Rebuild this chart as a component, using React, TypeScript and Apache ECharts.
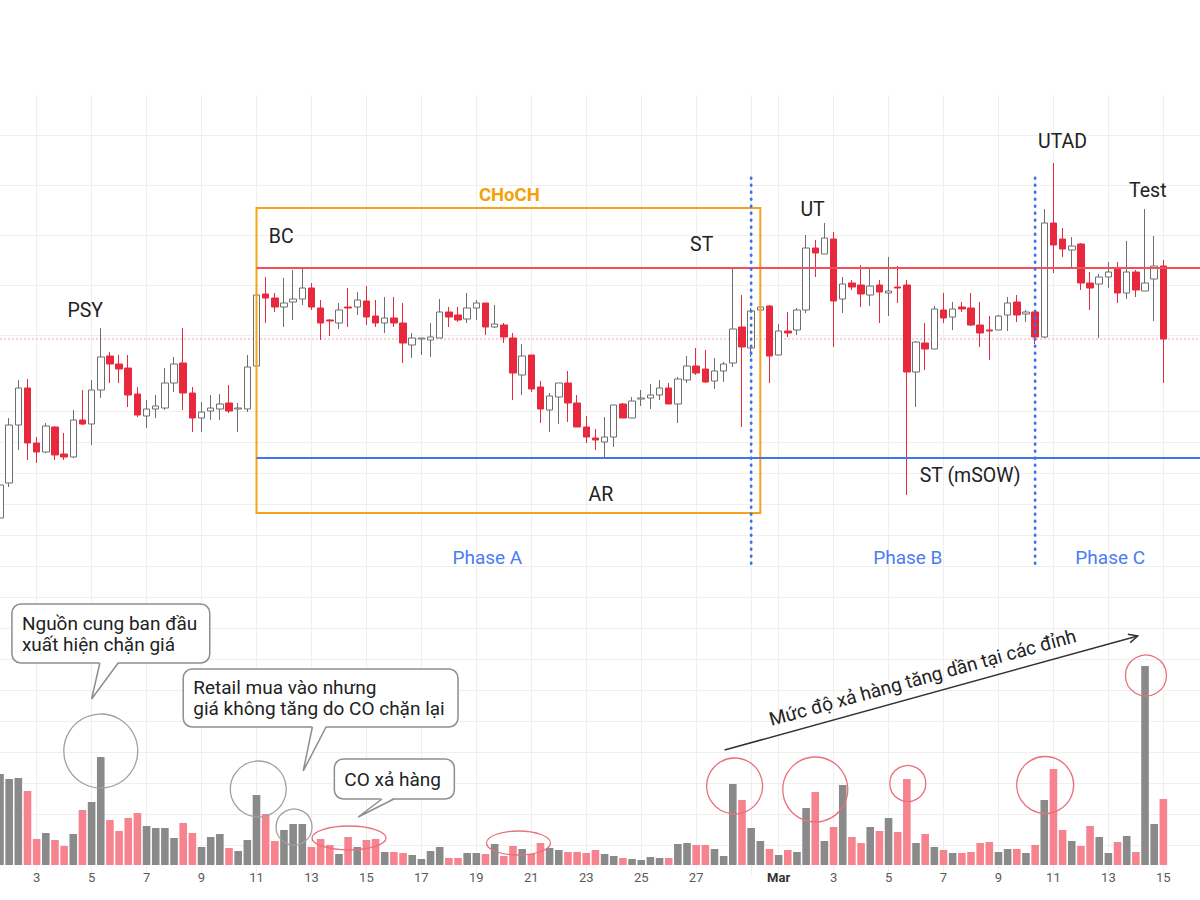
import React, { useEffect, useRef } from "react";
import * as echarts from "echarts";

// ---- time slots (8h candles) ----
const START_UTC = Date.UTC(2024, 1, 1, 16);
const BAR_HOURS = 8;
const SLOT_COUNT = 132;
const MONTHS = ["Jan", "Feb", "Mar", "Apr", "May", "Jun", "Jul", "Aug", "Sep", "Oct", "Nov", "Dec"];
const categories: string[] = Array.from({ length: SLOT_COUNT }, (_, k) =>
  new Date(START_UTC + k * BAR_HOURS * 3600000).toISOString().slice(0, 13)
);

// ---- price data ----
const opens = [
  31.7, 35.2, 41.0, 44.7, 39.2, 38.3, 40.8, 38.1, 37.8, 41.5,
  41.1, 44.5, 47.9, 47.1, 46.7, 44.1, 41.9, 42.6, 42.7, 45.2,
  47.2, 44.2, 41.7, 42.4, 42.6, 43.2, 42.6, 42.6, 46.9, 54.1,
  53.7, 52.8, 53.3, 53.6, 54.7, 52.7, 51.5, 51.2, 52.8, 52.8,
  53.4, 51.9, 51.2, 51.7, 51.2, 49.0, 49.6, 49.5, 49.7, 52.3,
  52.0, 51.6, 52.7, 53.2, 50.8, 51.0, 49.7, 46.0, 48.0, 44.8,
  42.5, 43.8, 45.2, 43.2, 40.8, 39.7, 39.3, 39.8, 43.1, 41.7,
  43.6, 43.7, 44.0, 44.7, 43.1, 45.5, 46.9, 46.6, 45.4, 46.4,
  47.2, 50.8, 48.7, 52.5, 52.9, 48.0, 50.4, 50.5, 52.5, 58.7,
  58.1, 59.6, 53.6, 55.2, 55.0, 54.0, 55.0, 54.2, 54.8, 55.0,
  46.3, 49.2, 48.6, 52.5, 51.8, 52.8, 52.7, 51.0, 50.5, 50.5,
  52.0, 53.3, 52.1, 52.3, 49.8, 61.2, 59.6, 58.5, 59.1, 55.2,
  55.1, 55.8, 56.6, 54.2, 56.3, 54.4, 55.6, 56.9,
];
const closes = [
  35.0, 41.0, 44.7, 39.2, 38.3, 40.9, 38.0, 37.8, 41.5, 41.1,
  44.5, 47.8, 47.1, 46.6, 44.0, 42.0, 42.6, 42.9, 45.2, 47.1,
  44.2, 41.7, 42.3, 42.7, 43.1, 42.4, 42.7, 46.8, 54.0, 53.7,
  52.8, 53.2, 53.6, 54.7, 52.8, 51.2, 51.4, 52.5, 52.7, 53.5,
  51.8, 51.2, 51.7, 51.2, 49.2, 49.7, 49.7, 49.8, 52.3, 51.8,
  51.5, 52.7, 53.2, 50.8, 51.1, 49.8, 46.2, 47.9, 44.6, 42.6,
  43.9, 45.2, 43.2, 40.8, 39.8, 39.5, 39.8, 43.0, 41.7, 43.4,
  43.7, 44.0, 44.7, 43.1, 45.6, 46.9, 46.2, 45.3, 46.4, 47.1,
  50.6, 48.8, 52.4, 52.8, 47.9, 50.4, 50.2, 52.5, 58.7, 58.2,
  59.7, 53.4, 55.1, 54.8, 54.1, 54.9, 54.3, 54.4, 54.7, 46.3,
  49.3, 48.6, 52.6, 51.7, 52.6, 52.6, 51.0, 50.2, 50.4, 51.9,
  53.2, 52.0, 52.3, 49.8, 61.2, 59.0, 58.6, 58.9, 55.2, 54.7,
  55.8, 56.3, 54.2, 56.3, 54.5, 55.2, 56.9, 49.6,
];
const lows = [
  30.5, 34.8, 38.5, 37.5, 37.2, 38.2, 37.5, 37.5, 37.7, 41.0,
  39.0, 43.7, 45.2, 45.2, 42.8, 41.8, 40.7, 41.7, 42.5, 44.3,
  42.5, 40.3, 40.3, 41.5, 41.5, 42.2, 40.3, 42.3, 45.5, 51.2,
  52.3, 50.8, 51.5, 53.0, 52.5, 49.5, 49.9, 50.6, 50.8, 52.0,
  51.0, 50.8, 50.2, 50.8, 47.2, 47.7, 48.0, 47.8, 49.7, 50.8,
  51.3, 51.2, 51.5, 50.0, 50.7, 49.2, 43.5, 44.0, 44.3, 41.2,
  40.3, 41.1, 41.3, 40.8, 39.2, 38.5, 37.8, 38.8, 41.7, 41.7,
  42.9, 42.6, 43.5, 43.1, 41.2, 45.2, 46.0, 45.2, 44.6, 45.3,
  46.8, 40.8, 47.8, 51.5, 45.2, 48.0, 49.8, 50.0, 52.2, 55.8,
  58.1, 48.8, 52.2, 54.5, 52.8, 52.9, 51.2, 51.9, 53.2, 34.0,
  42.8, 46.5, 48.6, 51.2, 50.5, 52.3, 50.9, 48.8, 47.5, 50.5,
  50.4, 51.3, 51.3, 49.1, 49.7, 56.2, 57.8, 56.8, 54.5, 52.5,
  49.7, 54.7, 53.2, 53.6, 53.8, 54.4, 51.4, 45.2,
];
const highs = [
  36.3, 41.7, 45.5, 45.6, 39.8, 41.2, 40.9, 40.2, 42.5, 44.5,
  45.5, 50.7, 48.3, 48.0, 48.0, 44.8, 43.5, 44.0, 46.7, 47.8,
  50.7, 44.8, 43.3, 44.0, 44.1, 45.0, 43.2, 48.0, 54.8, 55.8,
  54.2, 55.7, 56.5, 56.8, 55.2, 53.5, 51.6, 53.2, 54.7, 54.3,
  54.9, 53.5, 53.8, 53.8, 53.2, 50.2, 49.7, 51.2, 53.6, 52.8,
  52.8, 54.2, 53.5, 53.2, 53.0, 51.2, 50.2, 49.1, 48.0, 45.4,
  44.2, 45.2, 46.4, 44.0, 41.9, 40.6, 41.8, 43.0, 43.2, 43.8,
  44.5, 45.1, 45.5, 45.2, 45.8, 47.9, 48.7, 48.5, 47.7, 47.3,
  56.7, 54.0, 52.7, 54.5, 53.0, 51.1, 52.3, 52.7, 60.0, 59.5,
  61.2, 60.3, 55.8, 55.5, 57.0, 56.6, 55.5, 57.8, 56.9, 55.5,
  49.4, 51.2, 52.9, 54.2, 53.3, 53.3, 54.2, 53.3, 51.9, 52.0,
  53.8, 54.0, 52.5, 52.5, 62.6, 67.2, 60.7, 59.8, 59.2, 56.3,
  56.1, 57.3, 57.3, 59.4, 56.5, 62.6, 59.9, 57.5,
];
const volumes = [
  91, 86, 87, 74, 26, 32, 25, 19, 31, 55,
  63, 108, 45, 34, 47, 52, 39, 37, 37, 27,
  42, 32, 18, 28, 31, 17, 14, 25, 70, 51,
  24, 35, 41, 41, 18, 26, 20, 11, 28, 18,
  25, 26, 13, 13, 12, 10, 6, 14, 18, 7,
  7, 12, 12, 11, 21, 9, 19, 16, 11, 22,
  17, 15, 13, 13, 12, 15, 11, 9, 7, 6,
  5, 8, 7, 7, 21, 22, 20, 20, 16, 9,
  81, 65, 37, 24, 16, 10, 15, 13, 57, 73,
  24, 38, 80, 28, 22, 38, 34, 47, 33, 86,
  22, 31, 18, 15, 12, 12, 13, 22, 23, 13,
  16, 16, 12, 20, 65, 96, 35, 24, 19, 39,
  28, 12, 23, 29, 13, 199, 41, 66,
];

// ---- annotations (data coordinates: slot index, price / volume) ----
const rangeBox = { from: 28, to: 83, top: 62.7, bottom: 32.2 };
const rangeTitle = { text: "CHoCH", i: 55.6, price: 64.0 };
const resistanceLine = { price: 56.7, from: 28, to: 131 };
const supportLine = { price: 37.7, from: 28, to: 131 };
const phaseDividers = [82, 113];
const dividerSpan = { top: 65.7, bottom: 26.8 };
const priceLabels = [
  { text: "PSY", i: 9.3, price: 52.5 },
  { text: "BC", i: 30.7, price: 59.9 },
  { text: "ST", i: 76.6, price: 59.1 },
  { text: "UT", i: 88.7, price: 62.6 },
  { text: "UTAD", i: 116.0, price: 69.4 },
  { text: "Test", i: 125.3, price: 64.5 },
  { text: "AR", i: 65.6, price: 34.1 },
  { text: "ST (mSOW)", i: 105.9, price: 36.0 },
];
const phaseLabels = [
  { text: "Phase A", i: 53.2, price: 27.8 },
  { text: "Phase B", i: 99.1, price: 27.8 },
  { text: "Phase C", i: 121.2, price: 27.8 },
];
const grayCircles = [
  { i: 11.0, vol: 114, r: 37 },
  { i: 28.2, vol: 76, r: 28 },
  { i: 32.1, vol: 38, r: 18 },
];
const redEllipses = [
  { i: 38.1, vol: 27, rx: 37, ry: 12 },
  { i: 56.6, vol: 22, rx: 32, ry: 12 },
];
const redCircles = [
  { i: 80.2, vol: 79, r: 28 },
  { i: 89.0, vol: 75.5, r: 32.5 },
  { i: 99.1, vol: 81.5, r: 18 },
  { i: 114.1, vol: 80, r: 28.5 },
  { i: 125.1, vol: 189.5, r: 20.5 },
];
const callouts = [
  { lines: "Nguồn cung ban đầu\nxuất hiện chặn giá", x0: 1.3, x1: 22.9, top: 261, bottom: 202, baseL: 10.9, baseR: 12.9, tipI: 10.0, tipVol: 166 },
  { lines: "Retail mua vào nhưng\ngiá không tăng do CO chặn lại", x0: 20.0, x1: 50.0, top: 196, bottom: 138, baseL: 34.1, baseR: 35.6, tipI: 33.1, tipVol: 94 },
  { lines: "CO xả hàng", x0: 36.5, x1: 49.6, top: 106, bottom: 66, baseL: 41.7, baseR: 43.0, tipI: 39.1, tipVol: 48 },
];
const trendArrow = { fromI: 79.1, fromVol: 115, toI: 124.2, toVol: 229, text: "Mức độ xả hàng tăng dần tại các đỉnh" };

const FONT = "Roboto, 'Noto Sans', Arial, sans-serif";

function slotParts(v: string) {
  return { month: +v.slice(5, 7), day: +v.slice(8, 10), hour: +v.slice(11, 13) };
}
function isGridSlot(v: string) {
  const p = slotParts(v);
  return p.hour === 0 && p.day % 2 === 1;
}
function isLabelSlot(v: string) {
  const p = slotParts(v);
  return isGridSlot(v) && !(p.month === 2 && p.day === 29);
}

export default function App() {
  const ref = useRef<HTMLDivElement>(null);

  useEffect(() => {
    if (!ref.current) return;
    const chart = echarts.init(ref.current, undefined, { renderer: "svg" });

    const candleData = opens.map((o, k) => [o, closes[k], lows[k], highs[k]]);
    const volData = volumes.map((v, k) => ({
      value: v,
      itemStyle: { color: closes[k] >= opens[k] ? "#8a8a8a" : "#f6838e" },
    }));

    const splitX = {
      show: true,
      interval: (_: number, v: string) => isGridSlot(v),
      lineStyle: { color: "#efefef", width: 1 },
    };

    chart.setOption({
      animation: false,
      backgroundColor: "#ffffff",
      grid: [
        { left: 0, right: 0, top: 95, height: 290 },
        { left: 0, right: 0, top: 385, bottom: 24 },
      ],
      xAxis: [
        {
          type: "category", gridIndex: 0, data: categories, boundaryGap: false,
          axisLine: { show: false }, axisTick: { show: false }, axisLabel: { show: false },
          splitLine: splitX,
        },
        {
          type: "category", gridIndex: 1, data: categories, boundaryGap: false,
          axisLine: { show: false }, axisTick: { show: false },
          axisLabel: {
            show: true,
            interval: (_: number, v: string) => isLabelSlot(v),
            margin: -5,
            color: "#5a5a5a",
            fontSize: 13,
            fontFamily: FONT,
            formatter: (v: string) => {
              const p = slotParts(v);
              return p.day === 1 ? `{m|${MONTHS[p.month - 1]}}` : String(p.day);
            },
            rich: { m: { fontWeight: "bold", color: "#333333", fontSize: 13, fontFamily: FONT } },
          },
          splitLine: splitX,
        },
      ],
      yAxis: [
        {
          type: "value", gridIndex: 0, min: 45, max: 74, interval: 5,
          axisLine: { show: false }, axisTick: { show: false }, axisLabel: { show: false },
          splitLine: { show: true, showMinLine: false, showMaxLine: false, lineStyle: { color: "#efefef" } },
        },
        {
          type: "value", gridIndex: 1, min: -11, max: 480, interval: 31,
          axisLine: { show: false }, axisTick: { show: false }, axisLabel: { show: false },
          splitLine: { show: true, showMinLine: false, showMaxLine: false, lineStyle: { color: "#efefef" } },
        },
      ],
      series: [
        {
          type: "candlestick",
          xAxisIndex: 0,
          yAxisIndex: 0,
          data: candleData,
          barWidth: 7,
          clip: false,
          z: 5,
          itemStyle: {
            color: "#ffffff",
            color0: "#e8283c",
            borderColor: "#6e6e6e",
            borderColor0: "#e8283c",
            borderWidth: 1,
          },
        },
        {
          type: "bar",
          xAxisIndex: 1,
          yAxisIndex: 1,
          data: volData,
          barWidth: 7.6,
          z: 3,
        },
      ],
    });

    // pixel helpers through the chart's own scales
    const a0 = chart.convertToPixel({ gridIndex: 0 }, [0, 50]) as number[];
    const a1 = chart.convertToPixel({ gridIndex: 0 }, [100, 50]) as number[];
    const xPx = (i: number) => a0[0] + ((a1[0] - a0[0]) * i) / 100;
    const pPx = (v: number) => (chart.convertToPixel({ gridIndex: 0 }, [0, v]) as number[])[1];
    const vPx = (v: number) => (chart.convertToPixel({ gridIndex: 1 }, [0, v]) as number[])[1];

    const els: any[] = [];
    const text = (t: string, x: number, y: number, fill: string, size: number, weight = "normal", extra: any = {}) => ({
      type: "text",
      z: 30,
      x, y,
      ...extra,
      style: {
        text: t, x: 0, y: 0, fill,
        font: `${weight} ${size}px ${FONT}`,
        align: "center", verticalAlign: "middle",
        textAlign: "center", textVerticalAlign: "middle",
      },
    });

    // last price dotted line
    const lastClose = closes[closes.length - 1];
    els.push({
      type: "line", z: 4,
      shape: { x1: xPx(0), y1: pPx(lastClose), x2: xPx(131), y2: pPx(lastClose) },
      style: { stroke: "#f3a3aa", lineWidth: 1, lineDash: [2, 2] },
    });
    // range box
    els.push({
      type: "rect", z: 20,
      shape: {
        x: xPx(rangeBox.from), y: pPx(rangeBox.top),
        width: xPx(rangeBox.to) - xPx(rangeBox.from), height: pPx(rangeBox.bottom) - pPx(rangeBox.top),
      },
      style: { fill: "none", stroke: "#f7a21b", lineWidth: 2 },
    });
    els.push(text(rangeTitle.text, xPx(rangeTitle.i), pPx(rangeTitle.price), "#f5a00a", 18.5, "bold"));
    // resistance & support
    for (const [ln, col] of [[resistanceLine, "#f2505b"], [supportLine, "#4273f0"]] as any) {
      els.push({
        type: "line", z: 21,
        shape: { x1: xPx(ln.from), y1: pPx(ln.price), x2: xPx(ln.to), y2: pPx(ln.price) },
        style: { stroke: col, lineWidth: 2 },
      });
    }
    // phase dividers
    for (const d of phaseDividers) {
      els.push({
        type: "line", z: 22,
        shape: { x1: xPx(d), y1: pPx(dividerSpan.top), x2: xPx(d), y2: pPx(dividerSpan.bottom) },
        style: { stroke: "#3d6ff2", lineWidth: 2.8, lineDash: [0.5, 6.5], lineCap: "round" },
      });
    }
    for (const l of priceLabels) els.push(text(l.text, xPx(l.i), pPx(l.price), "#222222", 19.5));
    for (const l of phaseLabels) els.push(text(l.text, xPx(l.i), pPx(l.price), "#4a7df3", 19));

    // volume circles
    for (const c of grayCircles) {
      els.push({ type: "circle", z: 25, shape: { cx: xPx(c.i), cy: vPx(c.vol), r: c.r }, style: { fill: "none", stroke: "#a0a0a0", lineWidth: 1.3 } });
    }
    for (const c of redEllipses) {
      els.push({ type: "ellipse", z: 25, shape: { cx: xPx(c.i), cy: vPx(c.vol), rx: c.rx, ry: c.ry }, style: { fill: "none", stroke: "#e8707c", lineWidth: 1.3 } });
    }
    for (const c of redCircles) {
      els.push({ type: "circle", z: 25, shape: { cx: xPx(c.i), cy: vPx(c.vol), r: c.r }, style: { fill: "none", stroke: "#e8707c", lineWidth: 1.3 } });
    }

    // callouts
    for (const b of callouts) {
      const x0 = xPx(b.x0), x1 = xPx(b.x1), y0 = vPx(b.top), y1 = vPx(b.bottom);
      const bl = xPx(b.baseL), br = xPx(b.baseR), tx = xPx(b.tipI), ty = vPx(b.tipVol);
      els.push({ type: "rect", z: 40, shape: { x: x0, y: y0, width: x1 - x0, height: y1 - y0, r: 9 }, style: { fill: "#ffffff", stroke: "#8e8e8e", lineWidth: 1.5 } });
      els.push({ type: "polygon", z: 41, shape: { points: [[bl, y1 - 1.2], [br, y1 - 1.2], [tx, ty]] }, style: { fill: "#ffffff" } });
      els.push({ type: "polyline", z: 42, shape: { points: [[bl, y1], [tx, ty], [br, y1]] }, style: { fill: "none", stroke: "#8e8e8e", lineWidth: 1.5 } });
      els.push({
        type: "text", z: 43, x: x0 + 10, y: (y0 + y1) / 2,
        style: {
          text: b.lines, x: 0, y: 0, fill: "#222222", font: `19px ${FONT}`, lineHeight: 21,
          align: "left", verticalAlign: "middle", textAlign: "left", textVerticalAlign: "middle",
        },
      });
    }

    // trend arrow
    const ax1 = xPx(trendArrow.fromI), ay1 = vPx(trendArrow.fromVol);
    const ax2 = xPx(trendArrow.toI), ay2 = vPx(trendArrow.toVol);
    const ang = Math.atan2(ay2 - ay1, ax2 - ax1);
    els.push({ type: "line", z: 30, shape: { x1: ax1, y1: ay1, x2: ax2, y2: ay2 }, style: { stroke: "#333333", lineWidth: 1.5 } });
    const head = 10, spread = 0.45;
    els.push({
      type: "polyline", z: 30,
      shape: {
        points: [
          [ax2 - head * Math.cos(ang - spread), ay2 - head * Math.sin(ang - spread)],
          [ax2, ay2],
          [ax2 - head * Math.cos(ang + spread), ay2 - head * Math.sin(ang + spread)],
        ],
      },
      style: { fill: "none", stroke: "#333333", lineWidth: 1.5 },
    });
    const mx = (ax1 + ax2) / 2, my = (ay1 + ay2) / 2;
    const nx = Math.sin(ang), ny = -Math.cos(ang);
    els.push(text(trendArrow.text, mx - 4 + 17 * nx, my + 1 + 17 * ny, "#222222", 19, "normal", { rotation: -ang }));

    chart.setOption({ graphic: { elements: els } });

    return () => chart.dispose();
  }, []);

  return (
    <div
      ref={ref}
      style={{ position: "absolute", left: 0, top: 0, width: 1200, height: 900, background: "#ffffff" }}
    />
  );
}
